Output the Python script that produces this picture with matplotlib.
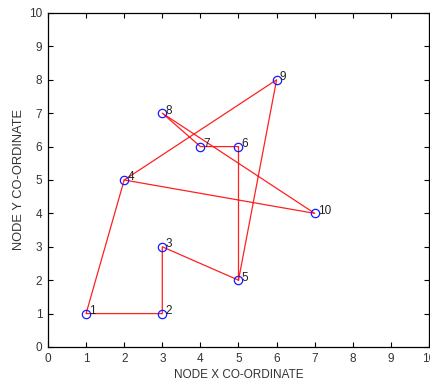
import matplotlib
matplotlib.use("Agg")
import matplotlib.pyplot as plt

# Node coordinates
node_ids = [1, 2, 3, 4, 5, 6, 7, 8, 9, 10]
node_x = [1, 3, 3, 2, 5, 5, 4, 3, 6, 7]
node_y = [1, 1, 3, 5, 2, 6, 6, 7, 8, 4]

# Route visiting the nodes (node ids)
route = [4, 1, 2, 3, 5, 9, 4, 10, 8, 7, 6, 5]

plt.rcParams['font.family'] = ['Liberation Sans', 'DejaVu Sans']

fig = plt.figure(figsize=(4.30, 3.84), dpi=100)
ax = fig.add_axes([0.1116, 0.0964, 0.8861, 0.8698])

rx = [node_x[node_ids.index(n)] for n in route]
ry = [node_y[node_ids.index(n)] for n in route]
ax.plot(rx, ry, color='#ff2020', linewidth=0.9, zorder=2)
ax.plot(node_x, node_y, linestyle='none', marker='o', markersize=6,
        markerfacecolor='none', markeredgecolor='#1a1aff', markeredgewidth=0.9, zorder=3)

for n, x, y in zip(node_ids, node_x, node_y):
    ax.text(x + 0.08, y + 0.08, str(n), fontsize=8.5, color='#222222',
            ha='left', va='center')

ax.set_xlim(0, 10)
ax.set_ylim(0, 10)
ax.set_xticks(range(11))
ax.set_yticks(range(11))
ax.tick_params(direction='in', top=True, right=True, length=3.5, width=0.8,
               labelsize=8.5, labelcolor='#333333', pad=4)
for s in ax.spines.values():
    s.set_linewidth(0.9)
ax.set_xlabel('NODE X CO-ORDINATE', fontsize=8.5, color='#333333', labelpad=3)
ax.set_ylabel('NODE Y CO-ORDINATE', fontsize=9.3, color='#333333', labelpad=3)

fig.savefig('out.png', dpi=100)
